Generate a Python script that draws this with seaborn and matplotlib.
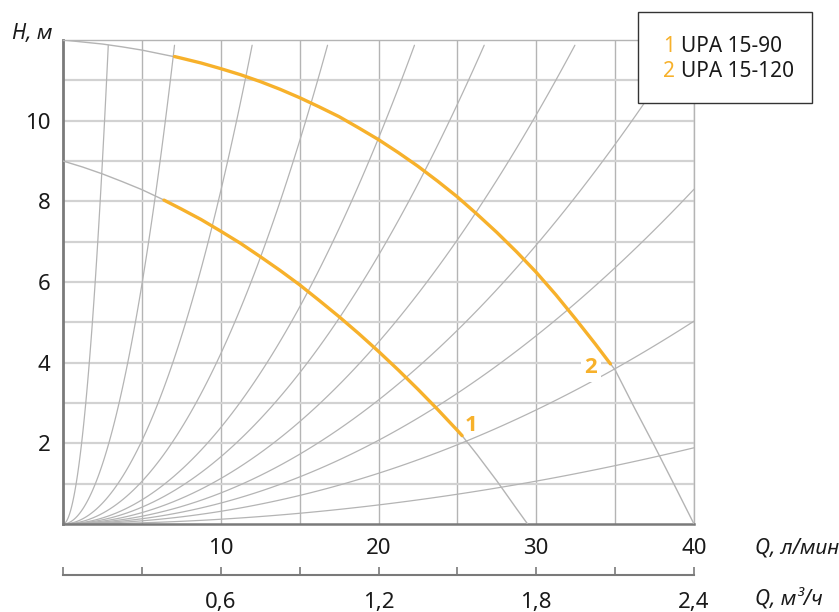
import numpy as np
import matplotlib.pyplot as plt
import seaborn as sns
from matplotlib.patches import Rectangle
from matplotlib.ticker import FixedLocator

# pump curve UPA 15-90: full characteristic (gray) and working range (orange)
q1 = [0, 1.25, 2.5, 3.75, 5, 6.25, 7.5, 8.75, 10, 11.25, 12.5, 13.75, 15, 16.25, 17.5,
      18.75, 20, 21.25, 22.5, 23.75, 25, 25.3, 26.25, 27.5, 28.75, 29.45]
h1 = [9.0, 8.85, 8.68, 8.49, 8.29, 8.06, 7.81, 7.55, 7.26, 6.96, 6.63, 6.29, 5.93, 5.54,
      5.14, 4.72, 4.28, 3.82, 3.34, 2.84, 2.32, 2.19, 1.72, 1.07, 0.38, 0.0]
q1_work = [6.4, 7.5, 8.75, 10, 11.25, 12.5, 13.75, 15, 16.25, 17.5, 18.75, 20, 21.25,
           22.5, 23.75, 25, 25.3]
h1_work = [8.03, 7.81, 7.55, 7.26, 6.96, 6.63, 6.29, 5.93, 5.54, 5.14, 4.72, 4.28, 3.82,
           3.34, 2.84, 2.32, 2.19]

# pump curve UPA 15-120
q2 = [0, 1.25, 2.5, 3.75, 5, 6.25, 7.5, 8.75, 10, 11.25, 12.5, 13.75, 15, 16.25, 17.5,
      18.75, 20, 21.25, 22.5, 23.75, 25, 26.25, 27.5, 28.75, 30, 31.25, 32.5, 33.75, 35,
      36.25, 37.5, 38.75, 40]
h2 = [12.0, 11.95, 11.9, 11.83, 11.75, 11.65, 11.55, 11.43, 11.29, 11.14, 10.97, 10.78,
      10.57, 10.34, 10.10, 9.82, 9.53, 9.21, 8.87, 8.50, 8.11, 7.68, 7.23, 6.75, 6.24,
      5.68, 5.08, 4.46, 3.82, 2.86, 1.93, 0.97, 0.0]
q2_work = [7.07, 7.5, 8.75, 10, 11.25, 12.5, 13.75, 15, 16.25, 17.5, 18.75, 20, 21.25,
           22.5, 23.75, 25, 26.25, 27.5, 28.75, 30, 31.25, 32.5, 33.75, 34.7]
h2_work = [11.59, 11.55, 11.43, 11.29, 11.14, 10.97, 10.78, 10.57, 10.34, 10.10, 9.82,
           9.53, 9.21, 8.87, 8.50, 8.11, 7.68, 7.23, 6.75, 6.24, 5.68, 5.08, 4.46, 3.97]

# system curves (H ~ Q^2), given by the point where each leaves the grid
sys_q_end = [2.87, 7.07, 11.99, 16.77, 22.28, 26.7, 32.45, 39.3, 40, 40, 40]
sys_h_end = [11.87, 11.87, 11.87, 11.87, 11.87, 11.87, 11.87, 11.87, 8.30, 5.03, 1.89]

legend_nums = ['1', '2']
legend_names = ['UPA 15-90', 'UPA 15-120']
x_labels = [10, 20, 30, 40]
y_labels = [2, 4, 6, 8, 10]
m3_labels = ['0,6', '1,2', '1,8', '2,4']

orange = '#f7b12b'
gray = '#b4b4b4'
dark = '#7a7a7a'

sns.set_theme(style='white')
plt.rcParams['font.family'] = ['Noto Sans', 'DejaVu Sans']

W, H = 839, 612
fig = plt.figure(figsize=(W / 100, H / 100), dpi=100)
ax = fig.add_axes([63 / W, 1 - 524 / H, (694 - 63) / W, (524 - 40) / H])

# system curves
for qe, he in zip(sys_q_end, sys_h_end):
    q = np.linspace(0, qe, 80)
    ax.plot(q, he * (q / qe) ** 2, color=gray, lw=0.9, zorder=2)

# pump curves
sns.lineplot(x=q1, y=h1, ax=ax, color=gray, lw=1.0, estimator=None, zorder=3)
sns.lineplot(x=q2, y=h2, ax=ax, color=gray, lw=1.0, estimator=None, zorder=3)
sns.lineplot(x=q1_work, y=h1_work, ax=ax, color=orange, lw=2.4, estimator=None, zorder=4)
sns.lineplot(x=q2_work, y=h2_work, ax=ax, color=orange, lw=2.4, estimator=None, zorder=4)

bold = dict(color=orange, fontsize=16, fontweight='bold', family=['Open Sans', 'DejaVu Sans'],
            ha='center', va='center', zorder=5)
ax.text(25.87, 2.43, '1', **bold)
ax.text(33.45, 3.87, '2', bbox=dict(facecolor='white', edgecolor='none', pad=2.5), **bold)

ax.set_xlim(0, 40)
ax.set_ylim(0, 12)
ax.set_xticks(range(5, 41, 5))
ax.set_xticklabels([str(v) if v in x_labels else '' for v in range(5, 41, 5)])
ax.set_yticks(range(1, 12))
ax.set_yticklabels([str(v) if v in y_labels else '' for v in range(1, 12)])
ax.tick_params(axis='both', length=0, labelsize=16, colors='#1a1a1a')
ax.tick_params(axis='x', pad=10)
ax.tick_params(axis='y', pad=9)
ax.grid(axis='y', color='#d2d2d2', lw=1.6)
ax.grid(axis='x', color=gray, lw=1.0)
ax.set_axisbelow(True)
for s in ['top', 'right']:
    ax.spines[s].set_color(gray)
    ax.spines[s].set_linewidth(1.0)
ax.spines['left'].set_color(dark)
ax.spines['left'].set_linewidth(2.0)
ax.spines['bottom'].set_color(dark)
ax.spines['bottom'].set_linewidth(1.8)

# second flow scale in m3/h
sec = ax.secondary_xaxis(-(575 - 524) / (524 - 40),
                         functions=(lambda q: q * 0.06, lambda m: m / 0.06))
sec.set_xticks([0.6, 1.2, 1.8, 2.4])
sec.set_xticklabels(m3_labels)
sec.xaxis.set_minor_locator(FixedLocator([0, 0.3, 0.9, 1.5, 2.1]))
sec.tick_params(which='both', direction='in', length=6, width=1.2, color=dark,
                labelsize=16, labelcolor='#1a1a1a', pad=12)
sec.spines['bottom'].set_color(dark)
sec.spines['bottom'].set_linewidth(1.5)

# axis titles
fig.text(12 / W, 1 - 33 / H, 'H, м', fontsize=15, style='italic', ha='left', va='center',
         color='#1a1a1a')
fig.text(755 / W, 1 - 548 / H, 'Q, л/мин', fontsize=15, style='italic', ha='left',
         va='center', color='#1a1a1a')
fig.text(755 / W, 1 - 600 / H, 'Q, м³/ч', fontsize=15, style='italic', ha='left',
         va='center', color='#1a1a1a')

# legend box
rect = Rectangle((638 / W, 1 - 103 / H), (812 - 638) / W, (103 - 12) / H,
                 transform=fig.transFigure, facecolor='white', edgecolor='#333333',
                 lw=1.0, zorder=5)
fig.add_artist(rect)
for i, (num, name) in enumerate(zip(legend_nums, legend_names)):
    y = 1 - (46.7 + 25 * i) / H
    fig.text(663 / W, y, num, color=orange, fontsize=15, ha='left', va='center', zorder=6)
    fig.text(681 / W, y, name, color='#1a1a1a', fontsize=15, ha='left', va='center', zorder=6)

fig.savefig('out.png', dpi=100)
